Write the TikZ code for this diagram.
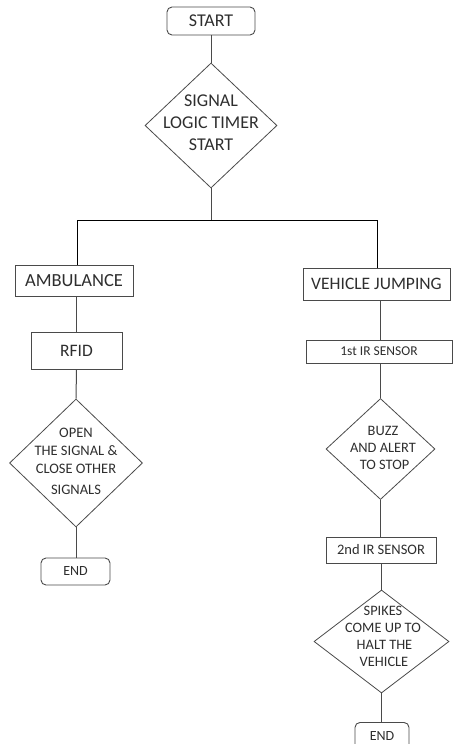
\documentclass[tikz,border=0pt]{standalone}
\usepackage{fontspec}
\setmainfont{Carlito}
\usetikzlibrary{shapes.geometric}
\definecolor{ink}{HTML}{2E2E2E}
\definecolor{wire}{HTML}{4A4A4A}
\tikzset{
  boxnode/.style={draw=wire, line width=0.9pt, inner sep=0pt, text=ink},
  termnode/.style={boxnode, rounded corners=5pt},
  dianode/.style={draw=wire, line width=0.8pt, diamond, inner sep=0pt},
  diatext/.style={inner sep=0pt, align=center, text=ink},
  conn/.style={draw=wire, line width=1pt},
}
\begin{document}
\begin{tikzpicture}[x=1pt, y=-1pt]
\useasboundingbox (0,0) rectangle (455,744);
% top
\node[termnode, minimum width=88, minimum height=28, font=\fontsize{18}{20}\selectfont] (start) at (211,21) {START};
\node[dianode, minimum width=132, minimum height=125] (d1) at (211,125.5) {};
\node[diatext, font=\fontsize{18}{22}\selectfont] (d1t) at (211,123) {SIGNAL\\LOGIC TIMER\\START};
\coordinate (j) at (211,220);
\coordinate (jl) at (77,220);
\coordinate (jr) at (377,220);
% left branch
\node[boxnode, minimum width=118, minimum height=31, font=\fontsize{18.5}{20}\selectfont] (amb) at (74,280.5) {AMBULANCE};
\node[boxnode, minimum width=91, minimum height=37, font=\fontsize{17.5}{20}\selectfont] (rfid) at (76.5,350.5) {RFID};
\node[dianode, minimum width=133, minimum height=128] (d2) at (76,463) {};
\node[diatext, font=\fontsize{14.5}{18}\selectfont] (d2t) at (76,461) {OPEN\\THE SIGNAL \&\\CLOSE OTHER\\[3pt]SIGNALS};
\node[termnode, minimum width=69, minimum height=27, font=\fontsize{14}{16}\selectfont] (end1) at (75.5,571.5) {END};
% right branch
\node[boxnode, minimum width=147, minimum height=32, font=\fontsize{17.5}{20}\selectfont] (veh) at (376.5,284) {VEHICLE JUMPING};
\node[boxnode, minimum width=146, minimum height=23, font=\fontsize{13.5}{16}\selectfont] (ir1) at (379,351.5) {1st IR SENSOR};
\node[dianode, minimum width=109, minimum height=101] (d3) at (380.5,449) {};
\node[diatext, font=\fontsize{14.4}{17}\selectfont] (d3t) at (383,448) {BUZZ\\AND ALERT\\\hspace*{3pt}TO STOP};
\node[boxnode, minimum width=110, minimum height=26, font=\fontsize{14.5}{16}\selectfont] (ir2) at (381,550) {2nd IR SENSOR};
\node[dianode, minimum width=135, minimum height=103] (d4) at (381.5,641.5) {};
\node[diatext, font=\fontsize{14.4}{17}\selectfont] (d4t) at (383,636) {SPIKES\\COME UP TO\\\hspace*{3pt}HALT THE\\\hspace*{2pt}VEHICLE};
\node[termnode, minimum width=54, minimum height=28, font=\fontsize{14}{16}\selectfont, anchor=north] (end2) at (382,722) {END};
% connectors
\draw[conn] (start.south) -- (d1.north);
\draw[conn] (d1.south) -- (j);
\draw[conn, draw=black] (jl) -- (jr);
\draw[conn, draw=black] (jl) -- (jl |- amb.north);
\draw[conn, draw=black] (jr) -- (jr |- veh.north);
\draw[conn] (amb.south -| rfid.north) -- (rfid.north);
\draw[conn] (rfid.south) -- (d2.north);
\draw[conn] (d2.south) -- (end1.north -| d2.south);
\draw[conn] (veh.south -| d3.north) -- (ir1.north -| d3.north);
\draw[conn] (ir1.south -| d3.north) -- (d3.north);
\draw[conn] (d3.south) -- (ir2.north -| d3.south);
\draw[conn] (ir2.south -| d4.north) -- (d4.north);
\draw[conn] (d4.south) -- (end2.north -| d4.south);
\end{tikzpicture}
\end{document}
